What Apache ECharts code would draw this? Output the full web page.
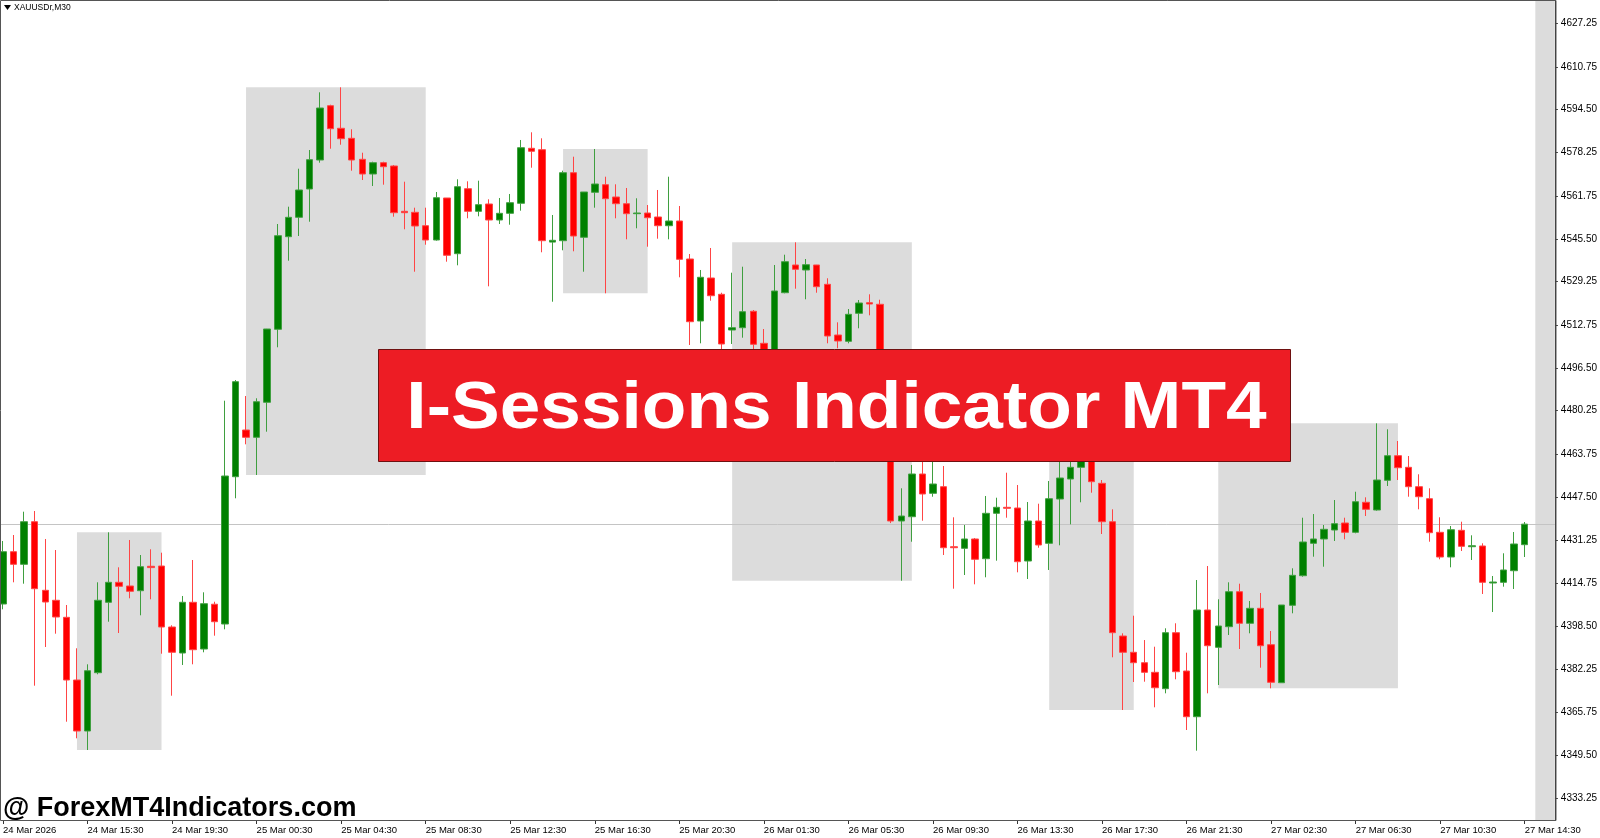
<!DOCTYPE html>
<html>
<head>
<meta charset="utf-8">
<title>I-Sessions Indicator MT4</title>
<script src="https://cdn.jsdelivr.net/npm/echarts@6/dist/echarts.min.js"></script>
<style>
html,body{margin:0;padding:0;background:#ffffff;}
#c{width:1600px;height:838px;}
</style>
</head>
<body>
<div id="c"></div>
<script>
// ---------------- DATA ----------------
const symbolTitle = 'XAUUSDr,M30';
const bannerTitle = 'I-Sessions Indicator MT4';
const watermark = '@ ForexMT4Indicators.com';

const times = [
'24 Mar 11:30','24 Mar 12:00','24 Mar 12:30','24 Mar 13:00','24 Mar 13:30','24 Mar 14:00','24 Mar 14:30','24 Mar 15:00',
'24 Mar 15:30','24 Mar 16:00','24 Mar 16:30','24 Mar 17:00','24 Mar 17:30','24 Mar 18:00','24 Mar 18:30','24 Mar 19:00',
'24 Mar 19:30','24 Mar 20:00','24 Mar 20:30','24 Mar 21:00','24 Mar 21:30','24 Mar 22:00','24 Mar 22:30',
'25 Mar 00:00','25 Mar 00:30','25 Mar 01:00','25 Mar 01:30','25 Mar 02:00','25 Mar 02:30','25 Mar 03:00','25 Mar 03:30',
'25 Mar 04:00','25 Mar 04:30','25 Mar 05:00','25 Mar 05:30','25 Mar 06:00','25 Mar 06:30','25 Mar 07:00','25 Mar 07:30',
'25 Mar 08:00','25 Mar 08:30','25 Mar 09:00','25 Mar 09:30','25 Mar 10:00','25 Mar 10:30','25 Mar 11:00','25 Mar 11:30',
'25 Mar 12:00','25 Mar 12:30','25 Mar 13:00','25 Mar 13:30','25 Mar 14:00','25 Mar 14:30','25 Mar 15:00','25 Mar 15:30',
'25 Mar 16:00','25 Mar 16:30','25 Mar 17:00','25 Mar 17:30','25 Mar 18:00','25 Mar 18:30','25 Mar 19:00','25 Mar 19:30',
'25 Mar 20:00','25 Mar 20:30','25 Mar 21:00','25 Mar 21:30','25 Mar 22:00','25 Mar 22:30',
'26 Mar 00:00','26 Mar 00:30','26 Mar 01:00','26 Mar 01:30','26 Mar 02:00','26 Mar 02:30','26 Mar 03:00','26 Mar 03:30',
'26 Mar 04:00','26 Mar 04:30','26 Mar 05:00','26 Mar 05:30','26 Mar 06:00','26 Mar 06:30','26 Mar 07:00','26 Mar 07:30',
'26 Mar 08:00','26 Mar 08:30','26 Mar 09:00','26 Mar 09:30','26 Mar 10:00','26 Mar 10:30','26 Mar 11:00','26 Mar 11:30',
'26 Mar 12:00','26 Mar 12:30','26 Mar 13:00','26 Mar 13:30','26 Mar 14:00','26 Mar 14:30','26 Mar 15:00','26 Mar 15:30',
'26 Mar 16:00','26 Mar 16:30','26 Mar 17:00','26 Mar 17:30','26 Mar 18:00','26 Mar 18:30','26 Mar 19:00','26 Mar 19:30',
'26 Mar 20:00','26 Mar 20:30','26 Mar 21:00','26 Mar 21:30','26 Mar 22:00','26 Mar 22:30',
'27 Mar 00:00','27 Mar 00:30','27 Mar 01:00','27 Mar 01:30','27 Mar 02:00','27 Mar 02:30','27 Mar 03:00','27 Mar 03:30',
'27 Mar 04:00','27 Mar 04:30','27 Mar 05:00','27 Mar 05:30','27 Mar 06:00','27 Mar 06:30','27 Mar 07:00','27 Mar 07:30',
'27 Mar 08:00','27 Mar 08:30','27 Mar 09:00','27 Mar 09:30','27 Mar 10:00','27 Mar 10:30','27 Mar 11:00','27 Mar 11:30',
'27 Mar 12:00','27 Mar 12:30','27 Mar 13:00','27 Mar 13:30','27 Mar 14:00','27 Mar 14:30'
];
const futureSlots = ['27 Mar 15:00','27 Mar 15:30'];

const tickLabels = ['24 Mar 2026','24 Mar 15:30','24 Mar 19:30','25 Mar 00:30','25 Mar 04:30','25 Mar 08:30','25 Mar 12:30',
'25 Mar 16:30','25 Mar 20:30','26 Mar 01:30','26 Mar 05:30','26 Mar 09:30','26 Mar 13:30','26 Mar 17:30','26 Mar 21:30',
'27 Mar 02:30','27 Mar 06:30','27 Mar 10:30','27 Mar 14:30'];

const priceTicks = [4333.25,4349.50,4365.75,4382.25,4398.50,4414.75,4431.25,4447.50,4463.75,4480.25,
4496.50,4512.75,4529.25,4545.50,4561.75,4578.25,4594.50,4610.75,4627.25];

const opens = [
4406.88,4426.73,4421.95,4438.12,4412.08,4408.29,4401.83,4378.03,4358.67,4380.80,
4407.53,4415.12,4413.72,4411.93,4421.20,4421.30,4398.15,4388.28,4407.53,4389.80,
4406.80,4399.29,4455.20,4472.93,4470.16,4483.45,4511.16,4546.31,4553.67,4564.42,
4575.42,4596.04,4587.46,4583.66,4575.69,4570.11,4574.40,4573.15,4555.95,4555.57,
4550.48,4545.06,4561.00,4539.86,4564.53,4555.95,4558.72,4552.65,4555.19,4558.99,
4579.87,4579.34,4544.26,4544.79,4570.60,4546.08,4563.16,4566.05,4561.38,4558.84,
4555.04,4555.30,4553.79,4550.48,4552.27,4537.84,4514.31,4530.63,4524.44,4510.89,
4511.76,4518.00,4505.84,4491.90,4525.05,4535.57,4533.67,4535.57,4528.24,4508.99,
4506.60,4517.23,4521.26,4520.65,4476.70,4438.39,4440.02,4456.23,4448.90,4451.41,
4428.63,4428.02,4431.56,4424.08,4441.31,4443.59,4443.32,4423.20,4438.39,4429.92,
4446.74,4454.33,4458.77,4469.14,4452.70,4438.12,4394.73,4388.55,4384.60,4380.95,
4374.73,4395.99,4381.45,4364.10,4404.60,4390.44,4398.27,4411.55,4399.56,4405.25,
4391.43,4377.00,4406.39,4417.62,4429.92,4431.56,4434.97,4437.63,4434.10,4445.49,
4442.56,4453.84,4463.18,4458.77,4451.41,4446.85,4434.10,4424.72,4434.86,4428.63,
4428.90,4414.85,4415.12,4419.52,4429.40
];
const highs = [
4430.80,4433.07,4441.92,4442.18,4431.56,4427.38,4406.50,4390.07,4383.99,4415.12,
4434.10,4420.81,4431.18,4425.48,4427.65,4426.36,4398.80,4409.92,4423.58,4411.32,
4407.75,4484.05,4491.90,4485.84,4484.97,4511.30,4551.13,4557.70,4572.12,4579.22,
4601.12,4596.42,4603.02,4587.08,4578.19,4574.78,4574.78,4573.53,4567.19,4557.32,
4557.32,4563.28,4561.00,4568.10,4567.34,4567.57,4560.51,4561.00,4562.52,4583.02,
4585.94,4583.66,4554.55,4571.36,4576.68,4563.28,4579.60,4569.08,4566.20,4564.80,
4560.89,4558.34,4564.04,4569.08,4557.96,4539.74,4533.67,4542.02,4525.05,4532.64,
4534.92,4518.48,4511.27,4535.57,4539.48,4544.18,4537.84,4535.60,4530.52,4513.81,
4518.86,4522.28,4524.44,4522.39,4480.50,4450.80,4459.64,4462.30,4463.06,4459.26,
4439.79,4436.87,4431.94,4447.88,4447.23,4456.72,4452.05,4445.60,4444.95,4453.57,
4465.30,4467.24,4472.90,4471.00,4453.95,4442.83,4395.76,4402.44,4393.20,4390.67,
4397.66,4399.56,4388.40,4415.99,4421.30,4408.67,4415.12,4414.59,4408.02,4411.06,
4396.63,4406.50,4420.43,4439.64,4441.04,4436.87,4446.36,4439.64,4449.50,4447.38,
4475.47,4473.20,4468.76,4463.06,4456.12,4450.80,4439.79,4436.49,4438.12,4432.96,
4429.92,4417.51,4426.13,4434.21,4438.01
];
const lows = [
4404.87,4415.12,4414.59,4375.87,4390.56,4395.61,4362.20,4355.90,4351.46,4380.20,
4400.16,4395.87,4409.05,4402.59,4408.67,4388.02,4372.07,4383.73,4383.99,4388.55,
4394.85,4397.28,4447.01,4467.50,4455.85,4472.29,4504.33,4537.20,4546.57,4552.00,
4574.40,4579.71,4581.23,4571.36,4567.83,4565.55,4566.05,4553.90,4549.12,4533.02,
4543.27,4544.80,4536.82,4535.45,4553.29,4554.05,4527.48,4551.13,4550.86,4556.18,
4572.50,4540.39,4521.63,4541.15,4540.77,4533.02,4557.32,4524.82,4553.29,4545.32,
4549.50,4542.51,4545.55,4545.32,4530.90,4505.20,4505.84,4522.01,4503.30,4505.58,
4507.97,4502.54,4487.36,4488.10,4524.82,4526.57,4522.55,4525.05,4505.84,4503.95,
4505.84,4511.54,4516.47,4474.80,4437.60,4415.72,4430.53,4438.50,4447.61,4425.48,
4412.69,4417.89,4414.36,4417.02,4423.32,4439.64,4418.91,4416.37,4428.25,4419.79,
4429.17,4437.13,4445.49,4449.13,4433.45,4386.65,4366.64,4377.27,4377.39,4367.67,
4372.98,4378.30,4359.05,4351.20,4372.98,4376.14,4395.12,4389.80,4395.76,4382.70,
4374.88,4377.00,4403.35,4417.24,4424.84,4421.04,4430.80,4431.44,4433.72,4440.28,
4442.30,4451.67,4453.95,4447.61,4442.83,4430.53,4423.85,4420.81,4427.00,4423.58,
4410.68,4403.84,4413.45,4412.58,4424.72
];
const closes = [
4426.73,4421.95,4438.12,4412.69,4407.64,4401.95,4378.03,4358.67,4381.56,4408.29,
4415.12,4413.60,4411.70,4421.04,4420.70,4398.15,4388.55,4407.53,4389.53,4407.00,
4400.16,4455.47,4491.27,4470.16,4483.67,4511.27,4546.69,4553.67,4564.04,4575.54,
4595.16,4587.31,4583.51,4575.42,4570.11,4574.40,4572.88,4555.42,4555.42,4550.37,
4545.06,4561.11,4539.25,4565.29,4555.95,4558.46,4552.65,4555.19,4559.22,4580.09,
4578.73,4544.79,4544.94,4570.60,4546.57,4563.28,4566.31,4560.73,4558.84,4555.04,
4555.30,4553.52,4550.48,4552.27,4537.73,4514.04,4530.90,4523.91,4505.58,4511.76,
4517.84,4505.46,4491.91,4525.70,4536.82,4533.93,4535.68,4527.33,4508.61,4506.72,
4516.85,4521.14,4520.76,4476.70,4438.39,4440.28,4456.23,4448.64,4452.43,4428.25,
4428.25,4431.56,4423.85,4441.31,4443.59,4443.21,4422.94,4438.39,4429.28,4446.85,
4454.71,4458.77,4469.14,4453.31,4438.12,4395.99,4388.55,4384.60,4380.95,4375.10,
4395.99,4381.18,4364.10,4404.60,4391.05,4398.53,4411.55,4399.56,4405.25,4391.05,
4377.16,4406.50,4417.77,4430.42,4431.56,4435.24,4437.37,4434.10,4445.71,4442.83,
4453.95,4463.18,4458.62,4451.41,4447.61,4433.95,4424.72,4435.08,4428.78,4429.01,
4415.12,4415.23,4419.79,4429.66,4437.20
];

// session boxes: [first bar index, last bar index]
const sessions = [[7,15],[23,40],[53,61],[69,86],[99,107],[115,132]];
const currentSessionStart = 145;
const lastPrice = 4437.20;
const yMin = 4324.89, yMax = 4636.16;

// ---------------- LAYOUT ----------------
const categories = times.concat(futureSlots);
const slot = 10.594;
const gridLeft = 0.3;
const gridWidth = slot * (categories.length - 1);
const plotRight = 1556;
const yOffset = plotRight - (gridLeft + gridWidth);

const candleData = opens.map((o, i) => [o, closes[i], lows[i], highs[i]]);
// item kinds: 0 = session box, 1 = current (open) session band, 2 = last price line
const overlayData = sessions.map(([s, e]) => {
  let hi = -Infinity, lo = Infinity;
  for (let k = s; k <= e; k++) { hi = Math.max(hi, highs[k]); lo = Math.min(lo, lows[k]); }
  return [s, e, lo, hi, 0];
});
overlayData.push([currentSessionStart, currentSessionStart, yMin, yMax, 1]);
overlayData.push([0, 0, lastPrice, lastPrice, 2]);

const chart = echarts.init(document.getElementById('c'), null, {renderer: 'canvas', width: 1600, height: 838});

chart.setOption({
  animation: false,
  backgroundColor: '#ffffff',
  grid: {left: gridLeft, top: 0, width: gridWidth, height: 820, containLabel: false},
  xAxis: {
    type: 'category',
    data: categories,
    boundaryGap: false,
    axisLine: {show: true, lineStyle: {color: '#333333', width: 1}},
    axisTick: {show: true, length: 4, lineStyle: {color: '#333333'},
      interval: (idx) => idx % 8 === 0 && idx < times.length},
    axisLabel: {
      show: true,
      interval: (idx) => idx % 8 === 0 && idx < times.length,
      formatter: (v, idx) => tickLabels[idx / 8] || '',
      align: 'left',
      margin: 5,
      color: '#000000',
      fontFamily: 'Liberation Sans',
      fontSize: 9.5
    },
    splitLine: {show: false}
  },
  yAxis: {
    type: 'value',
    position: 'right',
    offset: yOffset,
    min: yMin,
    max: yMax,
    scale: true,
    axisLine: {show: true, lineStyle: {color: '#333333', width: 1}},
    axisTick: {show: true, length: 3, customValues: priceTicks, lineStyle: {color: '#333333'}},
    axisLabel: {
      show: true,
      customValues: priceTicks,
      formatter: (v) => Number(v).toFixed(2),
      margin: 6,
      color: '#000000',
      fontFamily: 'Liberation Sans',
      fontSize: 10
    },
    splitLine: {show: false}
  },
  series: [
    {
      type: 'custom',
      z: 1,
      silent: true,
      clip: false,
      data: overlayData,
      encode: {x: [0, 1], y: [2, 3]},
      renderItem: function (params, api) {
        const s = api.value(0), e = api.value(1), lo = api.value(2), hi = api.value(3), kind = api.value(4);
        const cs = params.coordSys;
        const right = cs.x + cs.width + yOffset;
        if (kind === 2) {
          const y = Math.round(api.coord([0, hi])[1]) + 0.5;
          return {type: 'line', z2: 5, shape: {x1: 0, y1: y, x2: right, y2: y}, style: {stroke: '#C4C4C4', lineWidth: 1}};
        }
        const a = api.coord([s, hi]);
        const b = api.coord([e, lo]);
        let x1 = a[0], x2 = b[0], y1 = a[1], y2 = b[1];
        if (kind === 1) { x2 = right; y1 = cs.y; y2 = cs.y + cs.height; }
        return {type: 'rect', z2: 1, shape: {x: x1, y: y1, width: x2 - x1, height: y2 - y1}, style: {fill: '#DCDCDC'}};
      },
      markLine: {
        silent: true,
        symbol: ['none', 'none'],
        animation: false,
        lineStyle: {color: '#C4C4C4', width: 1, type: 'solid', opacity: 0},
        label: {
          show: true, position: 'end', distance: yOffset + 1,
          formatter: () => lastPrice.toFixed(2),
          backgroundColor: '#000000', color: '#ffffff', padding: [2, 3, 1, 3],
          fontFamily: 'Liberation Sans', fontSize: 10
        },
        data: [{yAxis: lastPrice}]
      }
    },
    {
      type: 'candlestick',
      z: 3,
      silent: true,
      barWidth: 7,
      data: candleData,
      itemStyle: {
        color: '#008000', color0: '#FF0000',
        borderColor: '#3f9f3f', borderColor0: '#ff4545',
        borderWidth: 1
      }
    }
  ],
  graphic: [
    {type: 'rect', z: 50, silent: true, shape: {x: 0.5, y: 0.5, width: plotRight - 0.5, height: 820}, style: {fill: 'none', stroke: '#555555', lineWidth: 1}},
    {type: 'polygon', z: 50, silent: true, shape: {points: [[4, 5], [11, 5], [7.5, 10]]}, style: {fill: '#000000'}},
    {type: 'text', z: 50, silent: true, x: 14, y: 8, style: {text: symbolTitle, font: '8.5px "Liberation Sans"', fill: '#000000', align: 'left', verticalAlign: 'middle'}},
    {type: 'rect', z: 60, silent: true, shape: {x: 378.5, y: 349.5, width: 912, height: 112}, style: {fill: '#ED1C24', stroke: '#6e1010', lineWidth: 1}},
    {type: 'text', z: 61, silent: true, x: 836.5, y: 410, scaleX: 1.09, style: {text: bannerTitle, font: 'bold 67px "Liberation Sans"', fill: '#ffffff', align: 'center', verticalAlign: 'middle'}},
    {type: 'text', z: 61, silent: true, x: 3, y: 809, style: {text: watermark, font: 'bold 27px "Liberation Sans"', fill: '#000000', align: 'left', verticalAlign: 'middle'}}
  ]
});
</script>
</body>
</html>
